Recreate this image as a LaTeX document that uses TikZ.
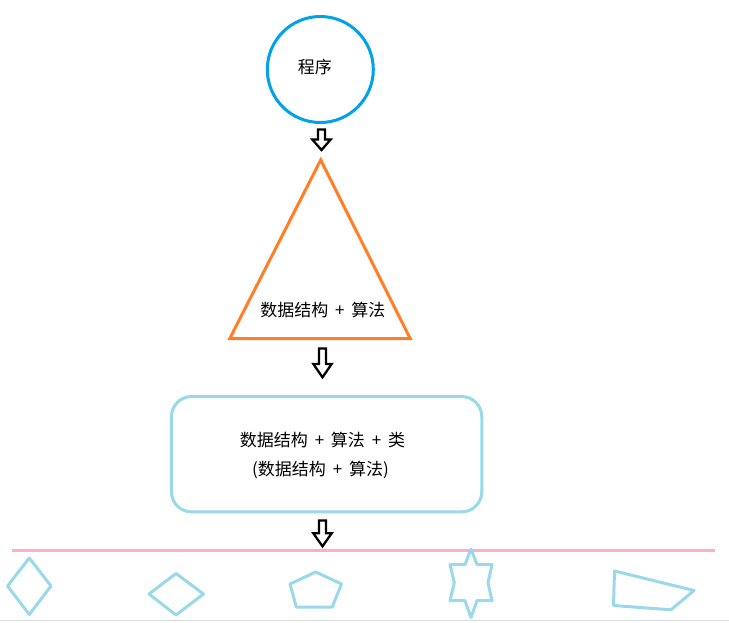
\documentclass[tikz,border=0pt]{standalone}
\usepackage{fontspec}
\newfontfamily\cjk{Noto Sans CJK SC}
\definecolor{cblue}{HTML}{00A2E8}
\definecolor{corange}{HTML}{FF7F27}
\definecolor{clight}{HTML}{99D9EA}
\definecolor{cpink}{HTML}{FFAEC9}
\definecolor{cgray}{HTML}{D9D9D9}
\newcommand\holarrow[3]{\draw[blockarrow] (#1) ++(-3.5,0) -- ++(0,#2) -- ++(-5.7,0) -- ++(9.2,#3) -- ++(9.2,-#3) -- ++(-5.7,0) -- ++(0,-#2) -- cycle;}
\begin{document}
\begin{tikzpicture}[x=1pt,y=-1pt,
  txt/.style={font=\cjk\fontsize{17}{20}\selectfont, inner sep=0pt, text=black},
  shapeline/.style={draw=clight, line width=3pt, line join=round},
  blockarrow/.style={draw=black, line width=2.3pt, fill=white, line join=miter}]
\useasboundingbox[fill=white] (0,0) rectangle (729,622);
% circle
\node[circle, draw=cblue, line width=3pt, minimum size=106pt, inner sep=0pt] (prog) at (320.3,69.5) {};
\node[txt] (progtxt) at (314.8,66.7) {程序};
% triangle
\coordinate (tA) at (320.7,160);
\coordinate (tL) at (229.8,338.5);
\coordinate (tR) at (410.2,338.5);
\draw[draw=corange, line width=3pt, line join=miter] (tA) -- (tR) -- (tL) -- cycle;
\node[txt] (dstxt) at (322.8,310.5) {数据结构\hspace{0.4em}+\hspace{0.4em}算法};
% rounded box
\node[draw=clight, line width=3pt, rounded corners=20pt, minimum width=310.3pt, minimum height=115.3pt, inner sep=0pt] (box) at (326.6,454.2) {};
\node[txt] (cls1) at (322.5,440) {数据结构\hspace{0.4em}+\hspace{0.4em}算法\hspace{0.4em}+\hspace{0.4em}类};
\node[txt] (cls2) at (320.5,470) {(数据结构\hspace{0.4em}+\hspace{0.4em}算法)};
% arrows
\coordinate (ar1) at (321.5,129.5);
\coordinate (ar2) at (322.5,348.5);
\coordinate (ar3) at (322.5,520.5);
\holarrow{ar1}{10}{10.5}
\holarrow{ar2}{15.4}{13.4}
\holarrow{ar3}{12.7}{13.1}
% pink line
\coordinate (pl) at (12,550.5);
\coordinate (pr) at (715,550.5);
\draw[cpink, line width=3pt] (pl) -- (pr);
% bottom gray line
\coordinate (gl) at (0,620.8);
\coordinate (gr) at (729,620.8);
\draw[cgray, line width=1.2pt] (gl) -- (gr);
% shapes
\draw[shapeline] (29.3,558) -- (51,586) -- (29.3,614.5) -- (7.5,586) -- cycle;
\draw[shapeline] (176,573.5) -- (203.5,594) -- (176,615) -- (149,594) -- cycle;
\draw[shapeline] (315.7,572) -- (341.5,584) -- (332.3,607) -- (296.3,607) -- (290,584) -- cycle;
\draw[shapeline] (471,549) -- (477,564.5) -- (492,564.5) -- (488,582.7) -- (492,600.7) -- (477,600.7) -- (471,617.5) -- (465,600.7) -- (450,600.7) -- (454.3,582.7) -- (450,564.5) -- (465,564.5) -- cycle;
\draw[shapeline] (614.5,571) -- (694,590.5) -- (671,609.8) -- (613.5,605.5) -- cycle;
\end{tikzpicture}
\end{document}
